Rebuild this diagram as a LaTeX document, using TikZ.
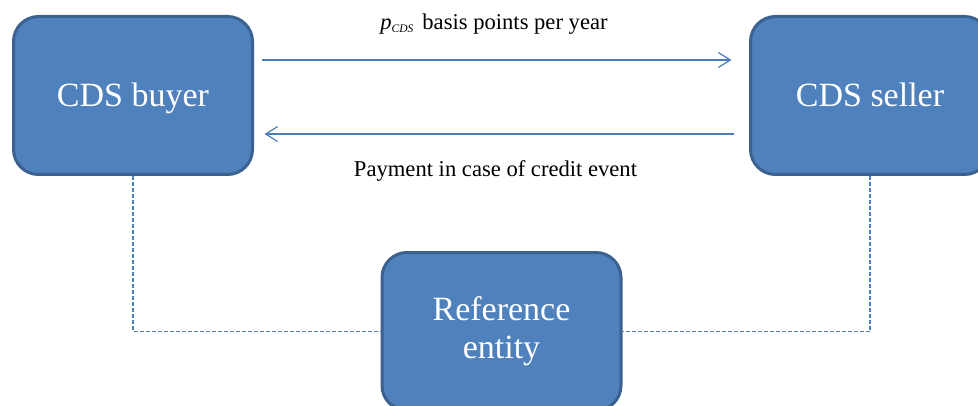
\documentclass[tikz,border=0pt]{standalone}
\usepackage{fontspec}
\setmainfont{Liberation Serif}
\usetikzlibrary{arrows.meta,calc}
\definecolor{boxfill}{HTML}{4F81BD}
\definecolor{boxline}{HTML}{3B6190}
\definecolor{arrcol}{HTML}{4A7EBB}
\tikzset{
  party/.style={rectangle, rounded corners=25pt, fill=boxfill, draw=boxline,
    line width=3pt, minimum width=239pt, minimum height=158pt, inner sep=0pt,
    text=white, font=\fontsize{34}{38}\selectfont, align=center},
  onerow/.style={text height=31pt, text depth=8pt},
  flow/.style={draw=arrcol, line width=1.2pt, -{Straight Barb[length=12pt,width=15pt,line width=1.2pt]}},
  link/.style={draw=arrcol, line width=1.2pt, dash pattern=on 4pt off 2pt},
  lbl/.style={font=\fontsize{22.6}{26}\selectfont, inner sep=0pt, anchor=base}
}
\begin{document}
\begin{tikzpicture}[x=1pt,y=1pt]
\useasboundingbox (0,0) rectangle (978,405);
\clip (0,0) rectangle (978,405);
\fill[white] (0,0) rectangle (978,405);
\node[party,onerow] (buyer) at (133,309.5) {CDS buyer};
\node[party,onerow] (seller) at (870,309.5) {CDS seller};
\node[party] (ref) at (501.5,73.5) {Reference\\entity};
\draw[flow] ($(buyer.east)+(8,35.5)$) -- ($(seller.west)+(-17.5,35.5)$);
\draw[flow] ($(seller.west)+(-15.5,-38.5)$) -- ($(buyer.east)+(10.5,-38.5)$);
\node[lbl] (top) at (494,375) {\textit{p}{\fontsize{11.5}{12}\selectfont\raisebox{-2.5pt}{\textit{CDS}}}\hspace{9pt}basis points per year};
\node[lbl] (bot) at (495.5,228) {Payment in case of credit event};
\draw[link] (buyer.south) |- (ref.west);
\draw[link] (seller.south) |- (ref.east);
\end{tikzpicture}
\end{document}
